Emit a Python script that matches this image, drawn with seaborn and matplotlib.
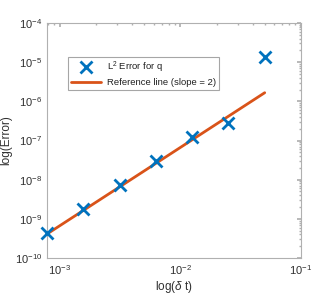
import numpy as np
import pandas as pd
import matplotlib
matplotlib.use("Agg")
import matplotlib.pyplot as plt
import seaborn as sns

# Daten
dt = [0.05, 0.025, 0.0125, 0.00625, 0.003125, 0.0015625, 0.00078125]
err_q = [1.33e-5, 2.75e-7, 1.21e-7, 3.0e-8, 7.3e-9, 1.75e-9, 4.4e-10]

# Referenzlinie (Steigung 2) - Endpunkte
ref_dt = [0.00078125, 0.05]
ref_err = [4.1e-10, 1.66e-6]

x_ticks = [1e-3, 1e-2, 1e-1]
y_ticks = [1e-10, 1e-9, 1e-8, 1e-7, 1e-6, 1e-5, 1e-4]

sns.set_theme(style="white")
plt.rcParams["font.family"] = ["Liberation Sans", "DejaVu Sans"]
plt.rcParams["mathtext.fontset"] = "custom"
plt.rcParams["mathtext.rm"] = "Liberation Sans"
plt.rcParams["mathtext.it"] = "Liberation Sans:italic"

blue = (0.0, 0.447, 0.741)
orange = (0.85, 0.325, 0.098)
axis_col = "#b0b0b0"
text_col = "#303030"

df_err = pd.DataFrame({"dt": dt, "err": err_q})
df_ref = pd.DataFrame({"dt": ref_dt, "err": ref_err})

fig = plt.figure(figsize=(3.32, 2.95), dpi=100)
ax = fig.add_axes([0.1416, 0.1254, 0.7650, 0.7966])

sns.lineplot(data=df_ref, x="dt", y="err", ax=ax, color=orange, linewidth=2,
             label="Reference line (slope = 2)", zorder=2)
ax.plot(df_err["dt"], df_err["err"], linestyle="none", marker="x", markersize=8,
        markeredgewidth=2, color=blue, label=r"L$^2$ Error for q", zorder=3,
        clip_on=False)

ax.set_xscale("log")
ax.set_yscale("log")
ax.set_xlim(0.00078125, 0.1)
ax.set_ylim(1e-10, 1e-4)
ax.set_xticks(x_ticks)
ax.set_yticks(y_ticks)

for side in ["top", "right", "bottom", "left"]:
    ax.spines[side].set_visible(True)
    ax.spines[side].set_color(axis_col)
    ax.spines[side].set_linewidth(0.8)

ax.tick_params(which="both", direction="in", top=True, right=True,
               colors=axis_col, labelcolor=text_col, labelsize=8)
ax.tick_params(which="major", length=3)
ax.tick_params(which="minor", length=1.5)

ax.set_xlabel(r"log($\delta$ t)", fontsize=8.5, color=text_col, labelpad=2)
ax.set_ylabel("log(Error)", fontsize=8.5, color=text_col, labelpad=2)

handles, labels = ax.get_legend_handles_labels()
leg = ax.legend(handles[::-1], labels[::-1], loc="upper left",
                bbox_to_anchor=(0.063, 0.877), fontsize=6.8, frameon=True,
                fancybox=False, edgecolor="#909090", handlelength=3.2,
                borderpad=0.35, labelspacing=0.3, handletextpad=0.6)
leg.get_frame().set_linewidth(0.8)
for t in leg.get_texts():
    t.set_color("#202020")

fig.savefig("out.png", dpi=100)
